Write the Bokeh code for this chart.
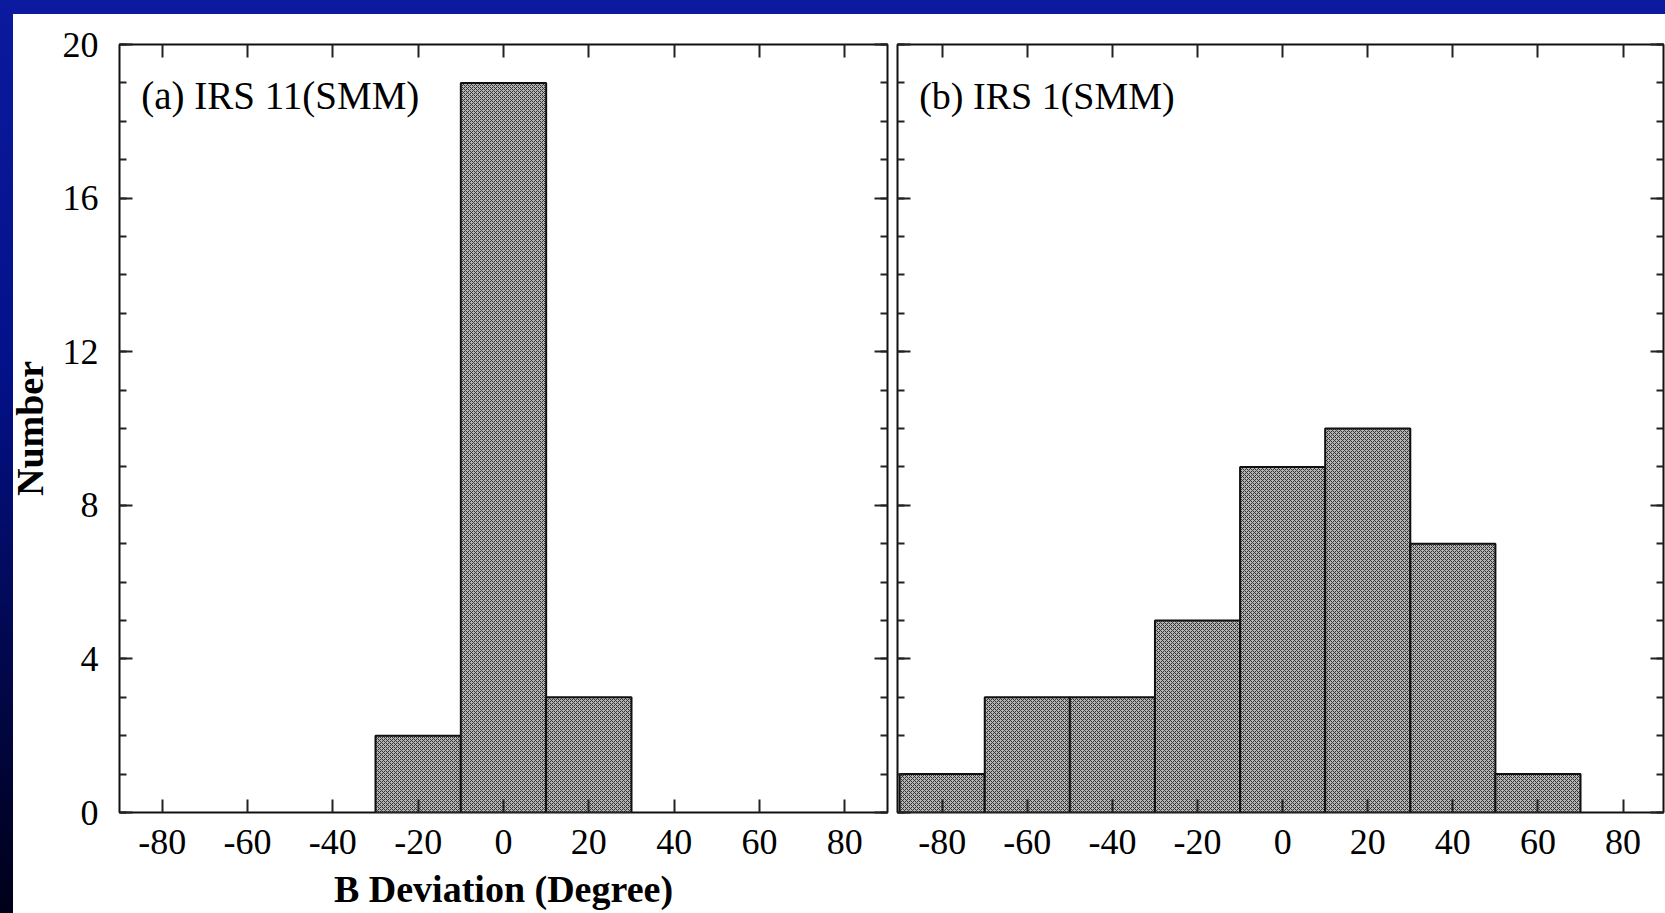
from bokeh.plotting import figure
from bokeh.models import LinearAxis, FixedTicker, Label
from bokeh.layouts import row, column
from bokeh.embed import file_html
from bokeh.resources import INLINE

# ---- data ----
x_ticks = [-80, -60, -40, -20, 0, 20, 40, 60, 80]
y_ticks = [0, 4, 8, 12, 16, 20]
y_minor = list(range(0, 21))

a_left = [-30, -10, 10]
a_right = [-10, 10, 30]
a_count = [2, 19, 3]

b_left = [-90, -70, -50, -30, -10, 10, 30, 50]
b_right = [-70, -50, -30, -10, 10, 30, 50, 70]
b_count = [1, 3, 3, 5, 9, 10, 7, 1]

label_a = "(a) IRS 11(SMM)"
label_b = "(b) IRS 1(SMM)"
x_title = "B Deviation (Degree)"
y_title = "Number"

SERIF = "Liberation Serif"
TICK_C = "#222222"


def make_axis(ticks, minor, labels, standoff=8):
    ax = LinearAxis(ticker=FixedTicker(ticks=ticks, minor_ticks=minor))
    ax.axis_line_color = None
    ax.major_tick_in = 13
    ax.major_tick_out = 0
    ax.minor_tick_in = 7
    ax.minor_tick_out = 0
    ax.major_tick_line_color = TICK_C
    ax.major_tick_line_width = 2
    ax.minor_tick_line_color = TICK_C
    ax.minor_tick_line_width = 2
    ax.major_label_text_font = SERIF
    ax.major_label_text_color = "black"
    if labels:
        ax.major_label_text_font_size = "36px"
        ax.major_label_standoff = standoff
        ax.major_label_overrides = {t: str(t) for t in ticks}
    else:
        ax.major_label_text_font_size = "0px"
        ax.major_label_standoff = 0
        ax.major_label_overrides = {t: "" for t in ticks}
    return ax


def make_panel(width, xr, mbl, mbr, left_labels, with_xtitle):
    p = figure(width=width, height=899, x_range=xr, y_range=(0, 20),
               x_axis_type=None, y_axis_type=None,
               output_backend="svg", toolbar_location=None,
               min_border_left=mbl, min_border_right=mbr,
               min_border_top=30, min_border_bottom=101)
    p.background_fill_color = "white"
    p.border_fill_color = "white"
    p.outline_line_color = "#111111"
    p.outline_line_width = 2

    bottom = make_axis(x_ticks, [], True, 17)
    if with_xtitle:
        bottom.axis_label = x_title
        bottom.axis_label_text_font = SERIF
        bottom.axis_label_text_font_style = "bold"
        bottom.axis_label_text_font_size = "38px"
        bottom.axis_label_text_color = "black"
        bottom.axis_label_standoff = 11
    p.add_layout(bottom, "below")
    p.add_layout(make_axis(x_ticks, [], False), "above")

    left = make_axis(y_ticks, y_minor, left_labels, 21)
    if left_labels:
        left.axis_label = y_title
        left.axis_label_text_font = SERIF
        left.axis_label_text_font_style = "bold"
        left.axis_label_text_font_size = "38px"
        left.axis_label_text_color = "black"
        left.axis_label_standoff = 9
    p.add_layout(left, "left")
    p.add_layout(make_axis(y_ticks, y_minor, False), "right")
    return p


def draw_bars(p, l, r, c):
    p.quad(left=l, right=r, bottom=0, top=c,
           fill_color="#b4b4b4", line_color="#111111", line_width=2,
           hatch_pattern="x", hatch_scale=4, hatch_weight=1,
           hatch_color="#333333")


p1 = make_panel(891, (-90, 90), 118, 5, True, True)
p1.border_fill_color = None
p1.margin = (0, 0, 0, -12)
draw_bars(p1, a_left, a_right, a_count)
p1.add_layout(Label(x=-84.9, y=18.67, text=label_a, text_font=SERIF,
                    text_font_size="39px", text_baseline="middle",
                    text_align="left", text_color="black"))

p2 = make_panel(773, (-90.5, 89.5), 5, 2, False, False)
draw_bars(p2, b_left, b_right, b_count)
p2.add_layout(Label(x=-85.4, y=18.67, text=label_b, text_font=SERIF,
                    text_font_size="38px", text_baseline="middle",
                    text_align="left", text_color="black"))

inner = row(p1, p2, margin=(14, 0, 0, 13), styles={"background": "white"})
page = column(inner, width=1665, height=913, styles={
    "overflow": "hidden",
    "background": "linear-gradient(to bottom, #0b1a9e 0%, #03118a 40%, #000018 100%)"})

open("out.html", "w").write(file_html(page, INLINE))
